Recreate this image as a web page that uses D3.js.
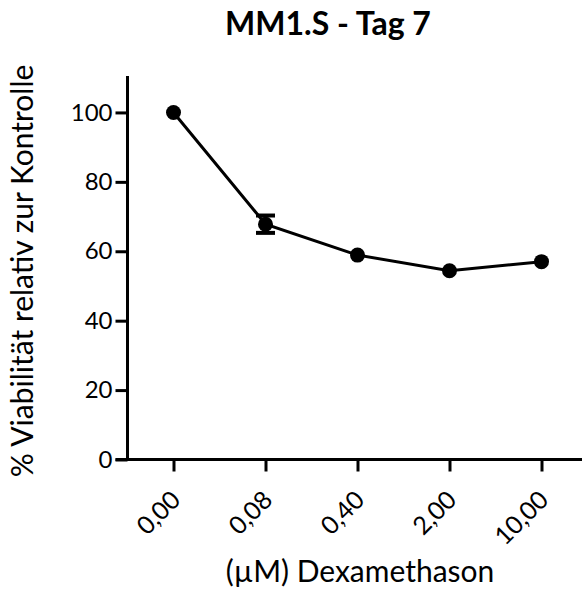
<!DOCTYPE html>
<html>
<head>
<meta charset="utf-8">
<script src="https://cdn.jsdelivr.net/npm/d3@7"></script>
<style>
  html, body { margin: 0; padding: 0; background: #fff; }
  svg { display: block; }
  text { font-family: Lato, "Open Sans", sans-serif; fill: #000; }
</style>
</head>
<body>
<svg id="chart" width="582" height="589"></svg>
<script>
// Dexamethasone concentrations (µM) and mean viability relative to control
const concentrations = ["0,00", "0,08", "0,40", "2,00", "10,00"];
const viability = [100, 67.8, 58.9, 54.4, 57.0];
const errors = [0, 2.5, 0, 0, 0];
const yTicks = [0, 20, 40, 60, 80, 100];

const svg = d3.select("#chart");
const plotLeft = 127.5, plotRight = 587.5, plotTop = 76, plotBottom = 459.5;

const x = d3.scalePoint().domain(concentrations).range([plotLeft, plotRight]).padding(0.5);
const y = d3.scaleLinear().domain([0, 110.5]).range([plotBottom, plotTop]);

// title
svg.append("text")
  .attr("x", 328).attr("y", 35)
  .attr("text-anchor", "middle")
  .attr("font-size", 32).attr("font-weight", 700)
  .text("MM1.S - Tag 7");

// y axis
const yAxis = svg.append("g")
  .attr("transform", `translate(${plotLeft},0)`)
  .call(d3.axisLeft(y).tickValues(yTicks).tickSize(12).tickPadding(3).tickFormat(d3.format("d")));
yAxis.select(".domain").attr("d", `M0,${plotTop}V${plotBottom}`);

// x axis
const xAxis = svg.append("g")
  .attr("transform", `translate(0,${plotBottom})`)
  .call(d3.axisBottom(x).tickSize(12).tickSizeOuter(0));
xAxis.select(".domain").attr("d", `M${plotLeft - 12},0H${582}`);

[yAxis, xAxis].forEach(g => {
  g.selectAll(".domain, .tick line").attr("stroke", "#000").attr("stroke-width", 3);
  g.selectAll(".tick text").attr("font-size", 24).attr("font-family", "Lato, 'Open Sans', sans-serif").attr("fill", "#000");
});

// rotated category labels
xAxis.selectAll(".tick text")
  .attr("text-anchor", "end")
  .attr("font-size", 25)
  .attr("x", 0).attr("y", 0).attr("dx", 0).attr("dy", 0)
  .attr("transform", "translate(8,42) rotate(-45)");

// axis titles
svg.append("text")
  .attr("transform", `translate(33,${271}) rotate(-90)`)
  .attr("text-anchor", "middle")
  .attr("font-size", 30)
  .text("% Viabilität relativ zur Kontrolle");

svg.append("text")
  .attr("x", 360).attr("y", 582)
  .attr("text-anchor", "middle")
  .attr("font-size", 30)
  .text("(µM) Dexamethason");

// connecting line
const line = d3.line().x((d, i) => x(concentrations[i])).y(d => y(d));
svg.append("path")
  .datum(viability)
  .attr("d", line)
  .attr("fill", "none")
  .attr("stroke", "#000")
  .attr("stroke-width", 3);

// error bars
const eb = svg.append("g").selectAll("g")
  .data(viability.map((v, i) => ({ c: concentrations[i], v, e: errors[i] })).filter(d => d.e > 0))
  .join("g");
eb.append("line")
  .attr("x1", d => x(d.c)).attr("x2", d => x(d.c))
  .attr("y1", d => y(d.v + d.e)).attr("y2", d => y(d.v - d.e))
  .attr("stroke", "#000").attr("stroke-width", 3);
eb.selectAll("line.cap")
  .data(d => [d.v + d.e, d.v - d.e].map(val => ({ c: d.c, val })))
  .join("line").attr("class", "cap")
  .attr("x1", d => x(d.c) - 9.5).attr("x2", d => x(d.c) + 9.5)
  .attr("y1", d => y(d.val)).attr("y2", d => y(d.val))
  .attr("stroke", "#000").attr("stroke-width", 4);

// markers
svg.append("g").selectAll("circle")
  .data(viability)
  .join("circle")
  .attr("cx", (d, i) => x(concentrations[i]))
  .attr("cy", d => y(d))
  .attr("r", 7.5)
  .attr("fill", "#000");
</script>
</body>
</html>
